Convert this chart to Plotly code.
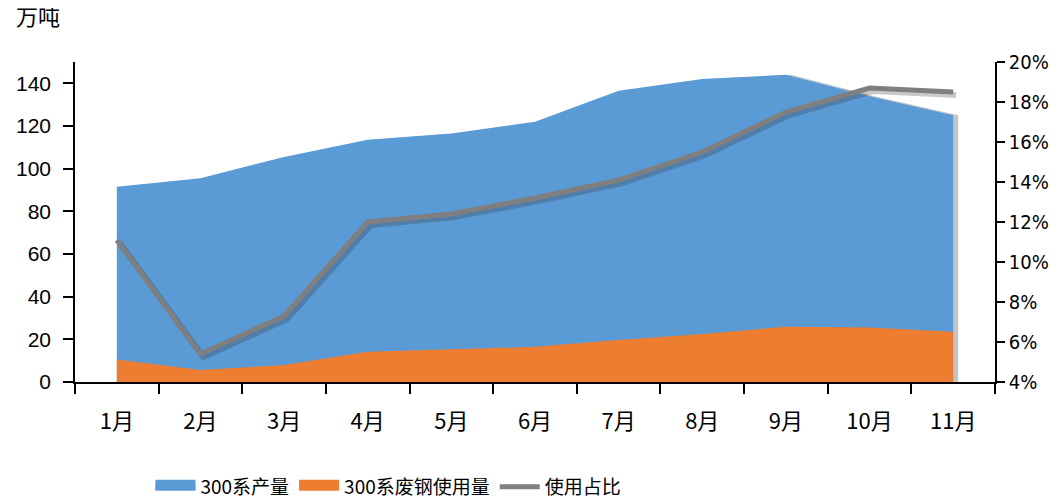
import plotly.graph_objects as go

months = ["1月", "2月", "3月", "4月", "5月", "6月", "7月", "8月", "9月", "10月", "11月"]
output_300 = [91.5, 95.5, 105.5, 113.5, 116.5, 122, 136.5, 142, 144, 134, 125]
scrap_300 = [10.6, 5.6, 8.0, 14.2, 15.3, 16.5, 19.7, 22.5, 25.9, 25.6, 23.6]
ratio = [0.111, 0.054, 0.073, 0.120, 0.124, 0.132, 0.141, 0.155, 0.175, 0.187, 0.185]

y_ticks = [0, 20, 40, 60, 80, 100, 120, 140]
r_ticks = [0.04, 0.06, 0.08, 0.10, 0.12, 0.14, 0.16, 0.18, 0.20]

BLUE = "#5b9bd5"
ORANGE = "#ed7d31"
GRAY = "#7f7f7f"
FONT = "Liberation Sans, Noto Sans CJK SC, sans-serif"
CJK = "Noto Sans CJK SC, sans-serif"

# plot area geometry (page has an 8px body margin; figure is taller than the window)
W, H = 1052, 520
L, R, T, B = 67, 65, 54, 146
plot_w = W - L - R
plot_h = H - T - B
cat_px = plot_w / 11

dx_area = 5 / cat_px
dx = 3 / cat_px
dy = 0.16 * 3 / plot_h
base_range = [-0.5, 10.5]

fig = go.Figure()
# soft shadow behind the areas (main subplot, shifted invisible x axis)
fig.add_trace(go.Scatter(x=months, y=output_300, mode="lines", showlegend=False, hoverinfo="skip",
                         line=dict(width=0, color="rgba(0,0,0,0)"), fill="tozeroy",
                         fillcolor="rgba(90,90,90,0.35)", xaxis="x", yaxis="y"))
# areas on the visible category axis
fig.add_trace(go.Scatter(x=months, y=output_300, name="300系产量", mode="lines", showlegend=False,
                         line=dict(width=0, color=BLUE), fill="tozeroy", fillcolor=BLUE,
                         xaxis="x2", yaxis="y"))
fig.add_trace(go.Scatter(x=months, y=scrap_300, name="300系废钢使用量", mode="lines", showlegend=False,
                         line=dict(width=0, color=ORANGE), fill="tozeroy", fillcolor=ORANGE,
                         xaxis="x2", yaxis="y"))
# soft shadow of the ratio line
fig.add_trace(go.Scatter(x=months, y=ratio, mode="lines", showlegend=False, hoverinfo="skip",
                         line=dict(width=6, color="rgba(40,40,40,0.25)"),
                         xaxis="x3", yaxis="y3"))
fig.add_trace(go.Scatter(x=months, y=ratio, name="使用占比", mode="lines", showlegend=False,
                         line=dict(width=5, color=GRAY), xaxis="x4", yaxis="y2"))

# legend entries
fig.add_trace(go.Scatter(x=[None], y=[None], name="300系产量", mode="lines", fill="tozeroy",
                         fillcolor=BLUE, line=dict(width=10, color=BLUE), xaxis="x2", yaxis="y"))
fig.add_trace(go.Scatter(x=[None], y=[None], name="300系废钢使用量", mode="lines", fill="tozeroy",
                         fillcolor=ORANGE, line=dict(width=10, color=ORANGE), xaxis="x2", yaxis="y"))
fig.add_trace(go.Scatter(x=[None], y=[None], name="使用占比", mode="lines",
                         line=dict(width=5, color=GRAY), xaxis="x4", yaxis="y2"))

axis_common = dict(showline=True, linecolor="black", linewidth=1.5, ticks="outside",
                   tickcolor="black", tickwidth=1.5, showgrid=False, zeroline=False,
                   automargin=False)
hidden_cat = dict(type="category", visible=False, categoryorder="array", categoryarray=months)

fig.update_layout(
    width=W, height=H,
    paper_bgcolor="white", plot_bgcolor="white",
    margin=dict(l=L, r=R, t=T, b=B),
    font=dict(family=FONT, size=21, color="black"),
    showlegend=True,
    legend=dict(orientation="h", x=0.082, xanchor="left", y=-0.328, yanchor="middle",
                font=dict(family=CJK, size=19), itemwidth=40, traceorder="normal",
                tracegroupgap=0),
    xaxis=dict(range=[base_range[0] - dx_area, base_range[1] - dx_area], **hidden_cat),
    xaxis2=dict(type="category", categoryorder="array", categoryarray=months, range=base_range,
                overlaying="x", side="bottom", anchor="y", ticklen=10, tickson="boundaries",
                tickfont=dict(family=CJK, size=22), ticklabelstandoff=19, **axis_common),
    yaxis=dict(range=[0, 150], tickvals=y_ticks, ticklen=10, tickfont=dict(size=21),
               ticklabelstandoff=8, anchor="x", **axis_common),
    yaxis2=dict(range=[0.04, 0.20], tickvals=r_ticks, tickformat=".0%", overlaying="y", side="right",
                anchor="x", ticklen=8,
                tickfont=dict(family="DejaVu Sans Condensed, Liberation Sans Narrow, sans-serif", size=20),
                **axis_common),
    xaxis3=dict(range=[base_range[0] - dx, base_range[1] - dx], overlaying="x", **hidden_cat),
    yaxis3=dict(range=[0.04 + dy, 0.20 + dy], overlaying="y", visible=False),
    xaxis4=dict(range=base_range, overlaying="x", **hidden_cat),
)

fig.add_annotation(text="万吨", xref="paper", yref="paper", x=(6 - L) / plot_w, y=(plot_h + T - 7) / plot_h,
                   xanchor="left", yanchor="middle", showarrow=False,
                   font=dict(family=CJK, size=22))

fig.write_html("out.html")
